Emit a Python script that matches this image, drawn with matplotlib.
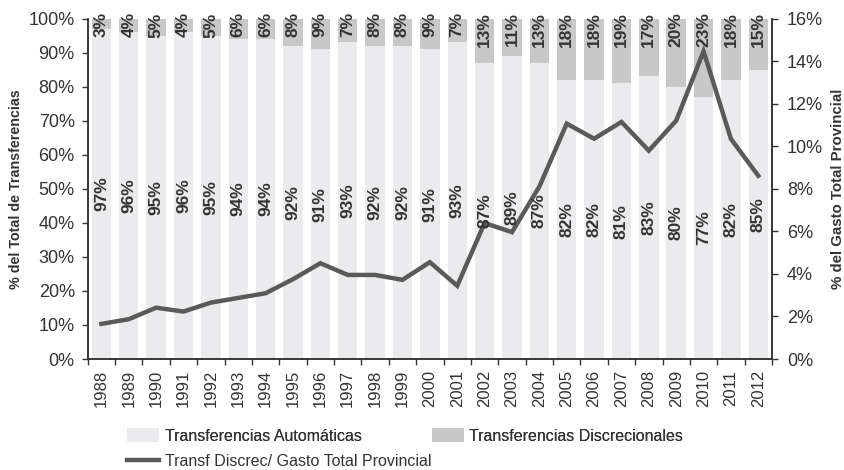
import matplotlib
matplotlib.use("Agg")
import matplotlib.pyplot as plt
import numpy as np
from matplotlib.patches import Patch
from matplotlib.lines import Line2D
from matplotlib.ticker import FuncFormatter, MultipleLocator, FixedLocator

plt.rcParams['font.family'] = ['Liberation Sans', 'DejaVu Sans']

years = [str(y) for y in range(1988, 2013)]
automaticas = [97, 96, 95, 96, 95, 94, 94, 92, 91, 93, 92, 92, 91, 93, 87, 89, 87,
               82, 82, 81, 83, 80, 77, 82, 85]
discrecionales = [3, 4, 5, 4, 5, 6, 6, 8, 9, 7, 8, 8, 9, 7, 13, 11, 13,
                  18, 18, 19, 17, 20, 23, 18, 15]
discrec_gasto = [1.65, 1.87, 2.41, 2.23, 2.65, 2.87, 3.09, 3.75, 4.50, 3.95, 3.95,
                 3.72, 4.55, 3.44, 6.39, 5.96, 8.10, 11.06, 10.35, 11.14, 9.79,
                 11.20, 14.46, 10.34, 8.61]

c_auto = '#ebebed'
c_disc = '#c8c8c8'
c_line = '#5a5a5a'
c_text = '#333333'

fig = plt.figure(figsize=(8.44, 4.70), dpi=100)
ax = fig.add_axes([87.7/844, 1-359/470, (772-87.7)/844, (359-18.5)/470])
ax2 = ax.twinx()

x = np.arange(len(years))
w = 0.71
ax.bar(x, automaticas, width=w, color=c_auto, zorder=1)
ax.bar(x, discrecionales, width=w, bottom=automaticas, color=c_disc, zorder=1)

ax2.plot(x, discrec_gasto, color=c_line, lw=3.2, solid_joinstyle='miter', zorder=3)

for i in range(len(years)):
    ax2.text(x[i], automaticas[i] / 2, f"{automaticas[i]}%", transform=ax.transData,
             rotation=90, ha='center', va='center', fontsize=12.5, fontweight='bold',
             color=c_text, zorder=5)
    ax2.text(x[i], 101.8, f"{discrecionales[i]}%", transform=ax.transData,
             rotation=90, ha='center', va='top', fontsize=12.5, fontweight='bold',
             color=c_text, zorder=5, clip_on=False)

ax.set_xlim(-0.5, len(years) - 0.5)
ax.set_ylim(0, 100)
ax2.set_ylim(0, 16)
ax.yaxis.set_major_locator(MultipleLocator(10))
ax.yaxis.set_major_formatter(FuncFormatter(lambda v, p: f"{int(round(v))}%"))
ax2.yaxis.set_major_locator(MultipleLocator(2))
ax2.yaxis.set_major_formatter(FuncFormatter(lambda v, p: f"{int(round(v))}%"))

ax.xaxis.set_major_locator(FixedLocator(np.arange(-0.5, len(years), 1.0)))
ax.xaxis.set_major_formatter(FuncFormatter(lambda v, p: ""))
ax.xaxis.set_minor_locator(FixedLocator(x))
ax.set_xticklabels(years, minor=True, rotation=90)
ax.tick_params(axis='x', which='major', length=4.3, width=1.0, color=c_text, direction='out')
ax.tick_params(axis='x', which='minor', length=0, pad=8, labelsize=12, labelcolor=c_text)
ax.tick_params(axis='y', length=4.3, width=1.0, color=c_text, pad=5, labelsize=13,
               labelcolor=c_text)
ax2.tick_params(axis='y', length=4.3, width=1.0, color=c_text, pad=6.5, labelsize=13,
                labelcolor=c_text)

for a in (ax, ax2):
    a.spines['top'].set_visible(False)
    for s in ('left', 'right', 'bottom'):
        a.spines[s].set_color(c_text)
        a.spines[s].set_linewidth(1.1)

ax.set_ylabel("% del Total de Transferencias", fontsize=10.3, fontweight='bold',
              color=c_text, labelpad=4)
ax2.set_ylabel("% del Gasto Total Provincial", fontsize=10.8, fontweight='bold',
               color=c_text, rotation=90, labelpad=6)

h_auto = Patch(facecolor=c_auto, edgecolor='none', label='Transferencias Automáticas')
h_disc = Patch(facecolor=c_disc, edgecolor='none', label='Transferencias Discrecionales')
h_line = Line2D([0], [0], color=c_line, lw=3.2, label='Transf Discrec/ Gasto Total Provincial')

leg1 = fig.legend(handles=[h_auto, h_disc], loc='center left', ncol=2,
                  bbox_to_anchor=(127/844, 1-436/470), frameon=False, fontsize=11.5,
                  borderpad=0, borderaxespad=0, handlelength=2.0, handleheight=0.9,
                  handletextpad=0.35, columnspacing=4.4, labelcolor=c_text)
leg2 = fig.legend(handles=[h_line], loc='center left',
                  bbox_to_anchor=(127/844, 1-461/470), frameon=False, fontsize=11.5,
                  borderpad=0, borderaxespad=0, handlelength=2.0,
                  handletextpad=0.35, labelcolor=c_text)
fig.add_artist(leg1)

fig.savefig("out.png", dpi=100)
